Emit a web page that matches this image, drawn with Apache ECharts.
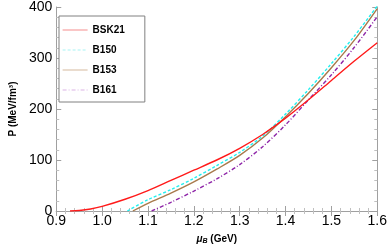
<!DOCTYPE html>
<html><head><meta charset="utf-8">
<script src="https://cdn.jsdelivr.net/npm/echarts@6/dist/echarts.min.js"></script>
<style>html,body{margin:0;padding:0;background:#fff}#c{width:390px;height:250px}</style>
</head><body><div id="c"></div>
<script>
// Data
const seriesNames = ['BSK21', 'B150', 'B153', 'B161'];
const muBSK21 = [0.93, 0.95, 0.975, 1.0, 1.05, 1.1, 1.15, 1.2, 1.25, 1.3, 1.35, 1.4, 1.45, 1.5, 1.55, 1.6];
const pBSK21  = [0, 1, 4, 9, 23, 40, 60, 80, 100, 123, 150, 182, 218, 256, 294, 330];
const muB150 = [1.055, 1.1, 1.15, 1.2, 1.25, 1.3, 1.35, 1.4, 1.45, 1.5, 1.55, 1.6];
const pB150  = [0, 22, 42, 64, 89, 115, 147, 190, 238, 289, 343, 402];
const muB153 = [1.067, 1.1, 1.15, 1.2, 1.25, 1.3, 1.35, 1.4, 1.45, 1.5, 1.55, 1.6];
const pB153  = [0, 15, 35, 57, 82, 109, 143, 185, 231, 281, 335, 397];
const muB161 = [1.108, 1.15, 1.2, 1.25, 1.3, 1.35, 1.4, 1.45, 1.5, 1.55, 1.6];
const pB161  = [0, 17, 39, 63, 91, 126, 169, 218, 267, 321, 381];
const xTicks = [0.9, 1.0, 1.1, 1.2, 1.3, 1.4, 1.5, 1.6];
const yTicks = [0, 100, 200, 300, 400];

const pair = (xs, ys) => xs.map((x, i) => [x, ys[i]]);
const colors = ['#ff1a1a', '#22f0f0', '#a87a4c', '#8e24a8'];
const legendColors = ['#f7a0a0', '#a8f4f4', '#dcc4ae', '#dcb4e6'];
const lineTypes = ['solid', [3, 2], 'solid', [4, 2, 1, 2]];
const datasets = [pair(muBSK21, pBSK21), pair(muB150, pB150), pair(muB153, pB153), pair(muB161, pB161)];

const frame = '#a0a0a0';
const common = {
  axisLine: {show: true, lineStyle: {color: frame, width: 1}},
  axisTick: {show: true, inside: true, length: 5, lineStyle: {color: frame}},
  minorTick: {show: true, splitNumber: 5, length: 3, lineStyle: {color: '#c0c0c0'}},
  splitLine: {show: false}
};

const chart = echarts.init(document.getElementById('c'), null, {renderer: 'canvas'});
chart.setOption({
  animation: false,
  backgroundColor: '#fff',
  grid: {left: 43, right: 10, top: 7, bottom: 36, containLabel: false},
  xAxis: [
    Object.assign({
      type: 'value', min: xTicks[0], max: xTicks[xTicks.length - 1], interval: 0.1,
      position: 'bottom',
      axisLabel: {color: '#000', fontSize: 14, fontFamily: 'Liberation Sans', margin: 3,
        formatter: v => v.toFixed(1)},
      name: '{mu|μ}{sub|B}{b| (GeV)}', nameLocation: 'middle', nameGap: 22,
      nameTextStyle: {rich: {
        mu: {fontSize: 10, fontWeight: 'bold', fontStyle: 'italic', fontFamily: 'Liberation Sans', color: '#000'},
        sub: {fontSize: 7, fontWeight: 'bold', fontStyle: 'italic', fontFamily: 'Liberation Sans', color: '#000', padding: [5, 0, 0, 0]},
        b: {fontSize: 10, fontWeight: 'bold', fontFamily: 'Liberation Sans', color: '#000'}
      }}
    }, common),
    Object.assign({
      type: 'value', min: 0.9, max: 1.6, interval: 0.1, position: 'top',
      axisLabel: {show: false}
    }, common)
  ],
  yAxis: [
    Object.assign({
      type: 'value', min: yTicks[0], max: yTicks[yTicks.length - 1], interval: 100,
      axisLabel: {color: '#000', fontSize: 14, fontFamily: 'Liberation Sans', margin: 4},
      name: 'P (MeV/fm³)', nameLocation: 'middle', nameGap: 30, nameRotate: 90,
      nameTextStyle: {fontSize: 10, fontWeight: 'bold', fontFamily: 'Liberation Sans', color: '#000'}
    }, common),
    Object.assign({
      type: 'value', min: 0, max: 400, interval: 100, position: 'right',
      axisLabel: {show: false}
    }, common)
  ],
  legend: {
    orient: 'vertical', left: 59, top: 16,
    padding: [9, 20, 7, 3],
    itemWidth: 25, itemHeight: 12, itemGap: 10,
    borderColor: '#808080', borderWidth: 1, borderRadius: 0, backgroundColor: '#fff',
    textStyle: {fontSize: 10, fontWeight: 'bold', fontFamily: 'Liberation Sans', color: '#000'},
    data: seriesNames.map((n, i) => ({name: n,
      itemStyle: {opacity: 0},
      lineStyle: {color: legendColors[i], width: 1.2, type: lineTypes[i], opacity: 1}}))
  },
  series: seriesNames.map((n, i) => ({
    name: n, type: 'line', xAxisIndex: 0, yAxisIndex: 0,
    data: datasets[i], smooth: 0.3, showSymbol: false, symbol: 'none',
    clip: true,
    lineStyle: {color: colors[i], width: 1.4, type: lineTypes[i]},
    itemStyle: {color: colors[i]},
    z: 2 + (3 - i)
  }))
});
</script>
</body></html>
